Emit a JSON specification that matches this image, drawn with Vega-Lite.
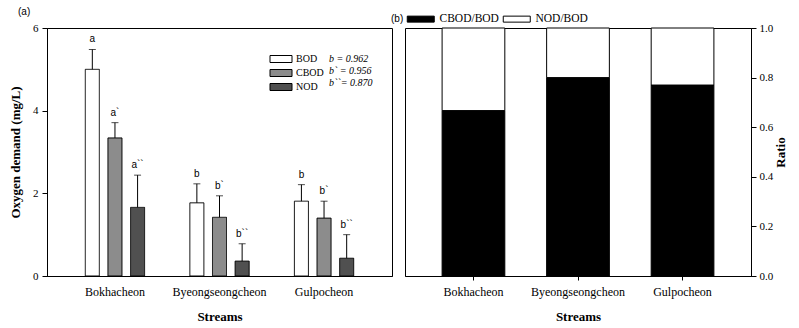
{
  "$schema": "https://vega.github.io/schema/vega-lite/v6.json",
  "background": "white",
  "padding": {"left": 9, "top": 6, "right": 5, "bottom": 5},
  "bounds": "flush",
  "spacing": 13,
  "config": {
    "view": {"stroke": "black", "strokeWidth": 1},
    "font": "Liberation Serif",
    "axis": {
      "labelFont": "Liberation Serif", "labelFontSize": 12, "labelColor": "black",
      "titleFont": "Liberation Serif", "titleFontSize": 13, "titleFontWeight": "bold", "titleColor": "black",
      "domainColor": "black", "tickColor": "black", "grid": false
    }
  },
  "resolve": {"scale": {"fill": "independent"}, "legend": {"fill": "independent"}},
  "datasets": {
    "demand": [
      {"stream": "Bokhacheon", "param": "BOD", "value": 5.0, "upper": 5.48, "letter": "a", "fit": "b  = 0.962"},
      {"stream": "Bokhacheon", "param": "CBOD", "value": 3.34, "upper": 3.71, "letter": "a`", "fit": "b` = 0.956"},
      {"stream": "Bokhacheon", "param": "NOD", "value": 1.66, "upper": 2.44, "letter": "a``", "fit": "b``= 0.870"},
      {"stream": "Byeongseongcheon", "param": "BOD", "value": 1.77, "upper": 2.23, "letter": "b", "fit": "b  = 0.962"},
      {"stream": "Byeongseongcheon", "param": "CBOD", "value": 1.42, "upper": 1.94, "letter": "b`", "fit": "b` = 0.956"},
      {"stream": "Byeongseongcheon", "param": "NOD", "value": 0.36, "upper": 0.78, "letter": "b``", "fit": "b``= 0.870"},
      {"stream": "Gulpocheon", "param": "BOD", "value": 1.81, "upper": 2.21, "letter": "b", "fit": "b  = 0.962"},
      {"stream": "Gulpocheon", "param": "CBOD", "value": 1.40, "upper": 1.81, "letter": "b`", "fit": "b` = 0.956"},
      {"stream": "Gulpocheon", "param": "NOD", "value": 0.43, "upper": 1.00, "letter": "b``", "fit": "b``= 0.870"}
    ],
    "ratio": [
      {"stream": "Bokhacheon", "part": "CBOD/BOD", "ratio": 0.667},
      {"stream": "Bokhacheon", "part": "NOD/BOD", "ratio": 0.333},
      {"stream": "Byeongseongcheon", "part": "CBOD/BOD", "ratio": 0.80},
      {"stream": "Byeongseongcheon", "part": "NOD/BOD", "ratio": 0.20},
      {"stream": "Gulpocheon", "part": "CBOD/BOD", "ratio": 0.77},
      {"stream": "Gulpocheon", "part": "NOD/BOD", "ratio": 0.23}
    ]
  },
  "hconcat": [
    {
      "width": 345,
      "height": 248,
      "title": {"text": "(a)", "anchor": "start", "frame": "group", "dx": -29, "offset": 5, "font": "Liberation Sans", "fontSize": 10, "fontWeight": "normal", "color": "black"},
      "data": {"name": "demand"},
      "encoding": {
        "x": {
          "field": "stream", "type": "nominal",
          "sort": ["Bokhacheon", "Byeongseongcheon", "Gulpocheon"],
          "scale": {"paddingInner": 0, "paddingOuter": 0.15},
          "axis": {"title": "Streams", "labelAngle": 0, "ticks": false, "labelPadding": 10, "titlePadding": 13, "labelFont": "Liberation Serif", "titleFont": "Liberation Serif"}
        },
        "xOffset": {
          "field": "param", "type": "nominal",
          "sort": ["BOD", "CBOD", "NOD"],
          "scale": {"paddingInner": 0.38, "paddingOuter": 1.18}
        }
      },
      "layer": [
        {
          "mark": {"type": "bar", "stroke": "black", "strokeWidth": 1},
          "encoding": {
            "y": {
              "field": "value", "type": "quantitative",
              "scale": {"domain": [0, 6]},
              "axis": {"title": "Oxygen demand (mg/L)", "values": [0, 2, 4, 6], "tickSize": 5, "labelFontSize": 11, "labelPadding": 4, "titlePadding": 10, "labelFont": "Liberation Serif", "titleFont": "Liberation Serif"}
            },
            "fill": {
              "field": "param", "type": "nominal",
              "scale": {"domain": ["BOD", "CBOD", "NOD"], "range": ["white", "#8c8c8c", "#505050"]},
              "legend": {
                "orient": "none", "legendX": 229, "legendY": 26, "title": null,
                "symbolType": "M-4.4,-1.4H4.4V1.4H-4.4Z", "symbolSize": 25,
                "symbolStrokeColor": "black", "symbolStrokeWidth": 1,
                "labelFont": "Liberation Serif", "labelFontSize": 10, "labelColor": "black",
                "labelOffset": 10, "rowPadding": 2
              }
            },
            "strokeDash": {
              "field": "fit", "type": "nominal",
              "scale": {"domain": ["b  = 0.962", "b` = 0.956", "b``= 0.870"], "range": [[1, 0], [1, 0], [1, 0]]},
              "legend": {
                "orient": "none", "legendX": 270, "legendY": 26, "title": null,
                "symbolType": "square", "symbolSize": 1, "symbolOpacity": 0, "symbolStrokeWidth": 0,
                "labelFont": "Liberation Serif", "labelFontSize": 10, "labelFontStyle": "italic", "labelColor": "black",
                "labelOffset": 2, "rowPadding": 2
              }
            }
          }
        },
        {
          "mark": {"type": "rule", "color": "black", "strokeWidth": 1},
          "encoding": {"y": {"field": "value", "type": "quantitative"}, "y2": {"field": "upper"}}
        },
        {
          "mark": {"type": "tick", "color": "black", "thickness": 1, "size": 7},
          "encoding": {"y": {"field": "upper", "type": "quantitative"}}
        },
        {
          "mark": {"type": "text", "font": "Liberation Sans", "fontSize": 10, "baseline": "bottom", "dy": -5, "color": "black"},
          "encoding": {"y": {"field": "upper", "type": "quantitative"}, "text": {"field": "letter"}}
        }
      ]
    },
    {
      "width": 346,
      "height": 248,
      "data": {"name": "ratio"},
      "mark": {"type": "bar", "stroke": "black", "strokeWidth": 1},
      "encoding": {
        "x": {
          "field": "stream", "type": "nominal",
          "sort": ["Bokhacheon", "Byeongseongcheon", "Gulpocheon"],
          "scale": {"paddingInner": 0.4, "paddingOuter": 0.355},
          "axis": {"title": "Streams", "labelAngle": 0, "tickSize": 4, "labelPadding": 6, "titlePadding": 13, "labelFont": "Liberation Serif", "titleFont": "Liberation Serif"}
        },
        "y": {
          "field": "ratio", "type": "quantitative", "stack": "zero",
          "scale": {"domain": [0, 1]},
          "axis": {"orient": "right", "title": "Ratio", "titleAngle": -90, "values": [0, 0.2, 0.4, 0.6, 0.8, 1.0], "format": ".1f", "tickSize": 5, "labelFontSize": 11, "labelPadding": 3, "titlePadding": 15, "labelFont": "Liberation Serif", "titleFont": "Liberation Serif"}
        },
        "fill": {
          "field": "part", "type": "nominal",
          "scale": {"domain": ["CBOD/BOD", "NOD/BOD"], "range": ["black", "white"]},
          "legend": {
            "orient": "none", "direction": "horizontal", "legendX": -14, "legendY": -15,
            "title": "(b)", "titleOrient": "left", "titleFont": "Liberation Sans", "titleFontSize": 10, "titleFontWeight": "normal", "titleColor": "black", "titlePadding": 11,
            "symbolType": "M-4.5,-1H4.5V1H-4.5Z", "symbolSize": 36,
            "symbolStrokeColor": "black", "symbolStrokeWidth": 1,
            "labelFont": "Liberation Serif", "labelFontSize": 11.5, "labelColor": "black",
            "labelOffset": 13, "columnPadding": 2
          }
        },
        "order": {"field": "part", "sort": "ascending"}
      }
    }
  ]
}
